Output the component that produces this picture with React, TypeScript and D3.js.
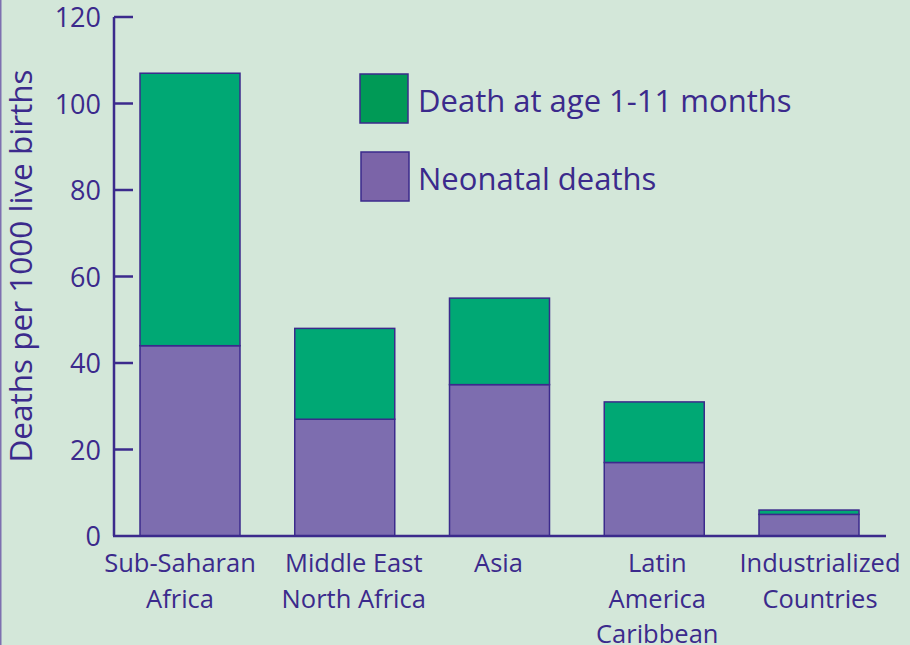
import { useEffect, useRef } from 'react'
import * as d3 from 'd3'

const categories = [
  ['Sub-Saharan', 'Africa'],
  ['Middle East', 'North Africa'],
  ['Asia'],
  ['Latin', 'America', 'Caribbean'],
  ['Industrialized', 'Countries'],
]
const neonatal = [44, 27, 35, 17, 5]
const infant = [63, 21, 20, 14, 1]
const yTicks = [0, 20, 40, 60, 80, 100, 120]
const seriesLabels = ['Death at age 1-11 months', 'Neonatal deaths']

const WIDTH = 910
const HEIGHT = 645
const TEXT = '#3b2a8c'
const GREEN = '#00a874'
const PURPLE = '#7d6daf'
const BG = '#d3e7d9'
const FONT = '"Open Sans", "Noto Sans", sans-serif'

export default function App() {
  const svgRef = useRef<SVGSVGElement>(null)

  useEffect(() => {
    document.body.style.margin = '0'
    if (!svgRef.current) return
    const svg = d3.select(svgRef.current)
    svg.selectAll('*').remove()

    svg.append('rect').attr('width', WIDTH).attr('height', HEIGHT).attr('fill', BG)
    svg.append('line')
      .attr('x1', 0.75).attr('x2', 0.75).attr('y1', 0).attr('y2', HEIGHT)
      .attr('stroke', '#7d70b0').attr('stroke-width', 1.5)

    const x0 = 114
    const x1 = 886
    const yScale = d3.scaleLinear().domain([0, 120]).range([536, 17])
    // bars start at 140, 100px wide, 154.75px step
    const xScale = d3
      .scaleBand<number>()
      .domain(d3.range(categories.length))
      .range([140, 140 + 4 * 154.75 + 100])
      .paddingInner(54.75 / 154.75)
      .paddingOuter(0)

    // bars
    const stackData = categories.map((_, i) => ({ neo: neonatal[i], inf: infant[i] }))
    const stack = d3.stack<{ neo: number; inf: number }>().keys(['neo', 'inf'])(stackData)
    const colors = [PURPLE, GREEN]
    stack.forEach((layer, li) => {
      svg.append('g')
        .selectAll('rect')
        .data(layer)
        .join('rect')
        .attr('x', (_, i) => xScale(i)!)
        .attr('width', xScale.bandwidth())
        .attr('y', d => yScale(d[1]))
        .attr('height', d => yScale(d[0]) - yScale(d[1]))
        .attr('fill', colors[li])
        .attr('stroke', TEXT)
        .attr('stroke-width', 1.5)
    })

    // axis
    const axis = svg.append('g')
    axis.append('line')
      .attr('x1', x0).attr('x2', x0)
      .attr('y1', yScale(120)).attr('y2', yScale(0))
      .attr('stroke', TEXT).attr('stroke-width', 2.5)
    axis.append('line')
      .attr('x1', x0 - 1).attr('x2', x1)
      .attr('y1', yScale(0)).attr('y2', yScale(0))
      .attr('stroke', TEXT).attr('stroke-width', 2.5)
    axis.selectAll('line.tick')
      .data(yTicks.filter(t => t > 0))
      .join('line')
      .attr('class', 'tick')
      .attr('x1', x0).attr('x2', x0 + 19)
      .attr('y1', d => yScale(d)).attr('y2', d => yScale(d))
      .attr('stroke', TEXT).attr('stroke-width', 2.5)
    axis.selectAll('text.tl')
      .data(yTicks)
      .join('text')
      .attr('class', 'tl')
      .attr('x', 101)
      .attr('y', d => yScale(d) + 10)
      .attr('text-anchor', 'end')
      .attr('font-family', FONT)
      .attr('font-size', 27)
      .attr('fill', TEXT)
      .text(d => d)

    // category labels (the original nudges some labels off the bar centre)
    const labelShift = [-10, 9, -1, 3, 11]
    categories.forEach((lines, i) => {
      const cx = xScale(i)! + xScale.bandwidth() / 2 + labelShift[i]
      const t = svg.append('text')
        .attr('x', cx)
        .attr('y', 572)
        .attr('text-anchor', 'middle')
        .attr('font-family', FONT)
        .attr('font-size', 25.5)
        .attr('fill', TEXT)
      lines.forEach((l, j) => {
        t.append('tspan').attr('x', cx).attr('dy', j === 0 ? 0 : 35.5).text(l)
      })
    })

    // y label
    svg.append('text')
      .attr('transform', `translate(32,${266}) rotate(-90)`)
      .attr('text-anchor', 'middle')
      .attr('font-family', FONT)
      .attr('font-size', 31.5)
      .attr('fill', TEXT)
      .text('Deaths per 1000 live births')

    // legend
    const legendColors = ['#009a56', '#7b64a8']
    seriesLabels.forEach((label, i) => {
      const y = 74 + i * 78
      svg.append('rect')
        .attr('x', 360 + i).attr('y', y).attr('width', 48).attr('height', 49)
        .attr('fill', legendColors[i])
        .attr('stroke', TEXT).attr('stroke-width', 1.5)
      svg.append('text')
        .attr('x', 418).attr('y', y + 38)
        .attr('font-family', FONT)
        .attr('font-size', 31)
        .attr('fill', TEXT)
        .text(label)
    })
  }, [])

  return <svg ref={svgRef} width={WIDTH} height={HEIGHT} style={{ display: 'block' }} />
}
